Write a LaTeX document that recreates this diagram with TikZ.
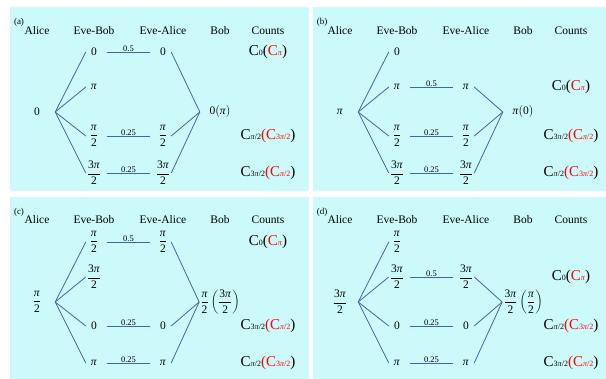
\documentclass[tikz,border=0pt]{standalone}
\usepackage{fontspec}
\setmainfont{Liberation Serif}
\definecolor{bgcyan}{RGB}{204,249,250}
\definecolor{linkblue}{RGB}{70,100,160}
\newcommand{\piit}{\textit{π}}
\newcommand{\hfr}[1]{$\displaystyle\frac{\mbox{#1}}{\mbox{2}}$}
\newcommand{\cnt}[1]{C{\fontsize{8}{9}\selectfont #1}}
\begin{document}
\begin{tikzpicture}[x=1pt, y=-1pt, every node/.style={font=\rmfamily\fontsize{11.5}{13}\selectfont},
  panel/.style={fill=bgcyan, draw=none},
  link/.style={draw=linkblue, line width=0.8pt},
  wt/.style={font=\rmfamily\fontsize{8.5}{9}\selectfont, above, inner sep=0.4pt},
  phase/.style={minimum width=16pt, inner sep=1pt},
  alice/.style={minimum width=36pt, inner sep=1pt},
  bob/.style={minimum width=40pt, inner sep=1pt},
  count/.style={font=\rmfamily\fontsize{15}{17}\selectfont, inner sep=1pt},
  panellabel/.style={font=\rmfamily\fontsize{9}{10}\selectfont}]
  \useasboundingbox (0,0) rectangle (606,379);
  % (a) Alice sends 0
  \begin{scope}
    \fill[panel] (10,7) rectangle (309,191);
    \node[panellabel] (a-tag) at (19,22) {(a)};
    \node (a-h1) at (37,31) {Alice};
    \node (a-h2) at (94,31) {Eve-Bob};
    \node (a-h3) at (163,31) {Eve-Alice};
    \node (a-h4) at (220,31) {Bob};
    \node (a-h5) at (268,31) {Counts};
    \node[alice] (a-alice) at (37,112) {0};
    \node[phase] (a-eb1) at (94,52) {0};
    \node[phase] (a-eb2) at (94,87) {\piit};
    \node[phase] (a-eb3) at (94,136) {\hfr{\piit}};
    \node[phase] (a-eb4) at (94,173) {\hfr{3\piit}};
    \node[phase] (a-ea1) at (163,52) {0};
    \node[phase] (a-ea3) at (163,136) {\hfr{\piit}};
    \node[phase] (a-ea4) at (163,173) {\hfr{3\piit}};
    \node[bob] (a-bob) at (220,112) {0$\left(\mbox{\piit}\right)$};
    \node[count] (a-c1) at (268,52) {\cnt{0}(\textcolor{red}{\cnt{\piit}})};
    \node[count] (a-c3) at (268,136) {\cnt{\piit/2}\textcolor{red}{(\cnt{3\piit/2}})};
    \node[count] (a-c4) at (268,173) {\cnt{3\piit/2}\textcolor{red}{(\cnt{\piit/2}})};
    % branches
    \draw[link] (a-alice.east) -- (a-eb1.west);
    \draw[link] (a-alice.east) -- (a-eb2.west);
    \draw[link] (a-alice.east) -- (a-eb3.west);
    \draw[link] (a-alice.east) -- (a-eb4.west);
    \draw[link, shorten <=4.5pt, shorten >=4.5pt] (a-eb1) -- node[wt] {0.5} (a-ea1);
    \draw[link, shorten <=4.5pt, shorten >=4.5pt] (a-eb3) -- node[wt] {0.25} (a-ea3);
    \draw[link, shorten <=4.5pt, shorten >=4.5pt] (a-eb4) -- node[wt] {0.25} (a-ea4);
    \draw[link] (a-ea1.east) -- (a-bob.west);
    \draw[link] (a-ea3.east) -- (a-bob.west);
    \draw[link] (a-ea4.east) -- (a-bob.west);
  \end{scope}
  % (b) Alice sends pi
  \begin{scope}[shift={(303,0)}]
    \fill[panel] (10,7) rectangle (309,191);
    \node[panellabel] (b-tag) at (19,22) {(b)};
    \node (b-h1) at (37,31) {Alice};
    \node (b-h2) at (94,31) {Eve-Bob};
    \node (b-h3) at (163,31) {Eve-Alice};
    \node (b-h4) at (220,31) {Bob};
    \node (b-h5) at (268,31) {Counts};
    \node[alice] (b-alice) at (37,112) {\piit};
    \node[phase] (b-eb1) at (94,52) {0};
    \node[phase] (b-eb2) at (94,87) {\piit};
    \node[phase] (b-eb3) at (94,136) {\hfr{\piit}};
    \node[phase] (b-eb4) at (94,173) {\hfr{3\piit}};
    \node[phase] (b-ea2) at (163,87) {\piit};
    \node[phase] (b-ea3) at (163,136) {\hfr{\piit}};
    \node[phase] (b-ea4) at (163,173) {\hfr{3\piit}};
    \node[bob] (b-bob) at (220,112) {\piit$\left(\mbox{0}\right)$};
    \node[count] (b-c2) at (268,87) {\cnt{0}(\textcolor{red}{\cnt{\piit}})};
    \node[count] (b-c3) at (268,136) {\cnt{3\piit/2}\textcolor{red}{(\cnt{\piit/2}})};
    \node[count] (b-c4) at (268,173) {\cnt{\piit/2}\textcolor{red}{(\cnt{3\piit/2}})};
    % branches
    \draw[link] (b-alice.east) -- (b-eb1.west);
    \draw[link] (b-alice.east) -- (b-eb2.west);
    \draw[link] (b-alice.east) -- (b-eb3.west);
    \draw[link] (b-alice.east) -- (b-eb4.west);
    \draw[link, shorten <=4.5pt, shorten >=4.5pt] (b-eb2) -- node[wt] {0.5} (b-ea2);
    \draw[link, shorten <=4.5pt, shorten >=4.5pt] (b-eb3) -- node[wt] {0.25} (b-ea3);
    \draw[link, shorten <=4.5pt, shorten >=4.5pt] (b-eb4) -- node[wt] {0.25} (b-ea4);
    \draw[link] (b-ea2.east) -- (b-bob.west);
    \draw[link] (b-ea3.east) -- (b-bob.west);
    \draw[link] (b-ea4.east) -- (b-bob.west);
  \end{scope}
  % (c) Alice sends pi/2
  \begin{scope}[shift={(0,190)}]
    \fill[panel] (10,7) rectangle (309,191);
    \node[panellabel] (c-tag) at (19,22) {(c)};
    \node (c-h1) at (37,30) {Alice};
    \node (c-h2) at (94,30) {Eve-Bob};
    \node (c-h3) at (163,30) {Eve-Alice};
    \node (c-h4) at (220,30) {Bob};
    \node (c-h5) at (268,30) {Counts};
    \node[alice] (c-alice) at (37,112) {\hfr{\piit}};
    \node[phase] (c-eb1) at (94,52) {\hfr{\piit}};
    \node[phase] (c-eb2) at (94,87) {\hfr{3\piit}};
    \node[phase] (c-eb3) at (94,136) {0};
    \node[phase] (c-eb4) at (94,173) {\piit};
    \node[phase] (c-ea1) at (163,52) {\hfr{\piit}};
    \node[phase] (c-ea3) at (163,136) {0};
    \node[phase] (c-ea4) at (163,173) {\piit};
    \node[bob] (c-bob) at (220,112) {$\displaystyle\frac{\mbox{\piit}}{\mbox{2}}\left(\frac{\mbox{3\piit}}{\mbox{2}}\right)$};
    \node[count] (c-c1) at (268,52) {\cnt{0}(\textcolor{red}{\cnt{\piit}})};
    \node[count] (c-c3) at (268,136) {\cnt{3\piit/2}\textcolor{red}{(\cnt{\piit/2}})};
    \node[count] (c-c4) at (268,173) {\cnt{\piit/2}\textcolor{red}{(\cnt{3\piit/2}})};
    % branches
    \draw[link] (c-alice.east) -- (c-eb1.west);
    \draw[link] (c-alice.east) -- (c-eb2.west);
    \draw[link] (c-alice.east) -- (c-eb3.west);
    \draw[link] (c-alice.east) -- (c-eb4.west);
    \draw[link, shorten <=4.5pt, shorten >=4.5pt] (c-eb1) -- node[wt] {0.5} (c-ea1);
    \draw[link, shorten <=4.5pt, shorten >=4.5pt] (c-eb3) -- node[wt] {0.25} (c-ea3);
    \draw[link, shorten <=4.5pt, shorten >=4.5pt] (c-eb4) -- node[wt] {0.25} (c-ea4);
    \draw[link] (c-ea1.east) -- (c-bob.west);
    \draw[link] (c-ea3.east) -- (c-bob.west);
    \draw[link] (c-ea4.east) -- (c-bob.west);
  \end{scope}
  % (d) Alice sends 3pi/2
  \begin{scope}[shift={(303,190)}]
    \fill[panel] (10,7) rectangle (309,191);
    \node[panellabel] (d-tag) at (19,22) {(d)};
    \node (d-h1) at (37,30) {Alice};
    \node (d-h2) at (94,30) {Eve-Bob};
    \node (d-h3) at (163,30) {Eve-Alice};
    \node (d-h4) at (220,30) {Bob};
    \node (d-h5) at (268,30) {Counts};
    \node[alice] (d-alice) at (37,112) {\hfr{3\piit}};
    \node[phase] (d-eb1) at (94,52) {\hfr{\piit}};
    \node[phase] (d-eb2) at (94,87) {\hfr{3\piit}};
    \node[phase] (d-eb3) at (94,136) {0};
    \node[phase] (d-eb4) at (94,173) {\piit};
    \node[phase] (d-ea2) at (163,87) {\hfr{3\piit}};
    \node[phase] (d-ea3) at (163,136) {0};
    \node[phase] (d-ea4) at (163,173) {\piit};
    \node[bob] (d-bob) at (220,112) {$\displaystyle\frac{\mbox{3\piit}}{\mbox{2}}\left(\frac{\mbox{\piit}}{\mbox{2}}\right)$};
    \node[count] (d-c2) at (268,87) {\cnt{0}(\textcolor{red}{\cnt{\piit}})};
    \node[count] (d-c3) at (268,136) {\cnt{\piit/2}\textcolor{red}{(\cnt{3\piit/2}})};
    \node[count] (d-c4) at (268,173) {\cnt{3\piit/2}\textcolor{red}{(\cnt{\piit/2}})};
    % branches
    \draw[link] (d-alice.east) -- (d-eb1.west);
    \draw[link] (d-alice.east) -- (d-eb2.west);
    \draw[link] (d-alice.east) -- (d-eb3.west);
    \draw[link] (d-alice.east) -- (d-eb4.west);
    \draw[link, shorten <=4.5pt, shorten >=4.5pt] (d-eb2) -- node[wt] {0.5} (d-ea2);
    \draw[link, shorten <=4.5pt, shorten >=4.5pt] (d-eb3) -- node[wt] {0.25} (d-ea3);
    \draw[link, shorten <=4.5pt, shorten >=4.5pt] (d-eb4) -- node[wt] {0.25} (d-ea4);
    \draw[link] (d-ea2.east) -- (d-bob.west);
    \draw[link] (d-ea3.east) -- (d-bob.west);
    \draw[link] (d-ea4.east) -- (d-bob.west);
  \end{scope}
\end{tikzpicture}
\end{document}
